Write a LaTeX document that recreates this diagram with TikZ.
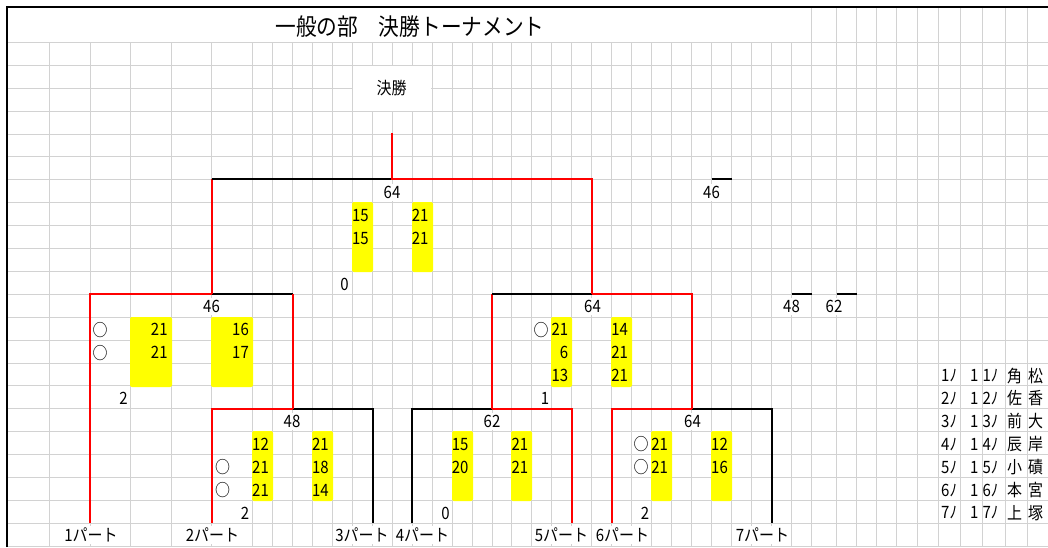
\documentclass[tikz,border=0pt]{standalone}
\usepackage{fontspec}
\setmainfont{Noto Sans CJK JP}[FakeStretch=0.88]
\usepackage{tikz}
\usetikzlibrary{calc}
\definecolor{cellgrid}{RGB}{210,210,210}
\definecolor{winred}{RGB}{255,0,0}
\definecolor{scoreyellow}{RGB}{255,255,0}

\begin{document}
\begin{tikzpicture}[x=1pt,y=-1pt,
    gridline/.style={cellgrid,line width=1.2pt},
    winline/.style={winred,line width=2pt},
    loseline/.style={black,line width=2pt},
    cell/.style={inner sep=0pt,font=\fontsize{17}{20}\selectfont},
    score/.style={cell,anchor=east},
    total/.style={cell,fill=white,inner xsep=1pt,minimum height=17pt},
    part/.style={cell,fill=white,inner xsep=1pt,minimum height=18pt},
    scorebox/.style={fill=scoreyellow,rounded corners=2pt}]
  \useasboundingbox (0,0) rectangle (1048,547);
  \clip (0,0) rectangle (1048,547);

  % sheet grid
  \foreach \r in {0,...,22}
    \draw[gridline] (7,{round(42+22.9*\r)+0.5}) -- (1048,{round(42+22.9*\r)+0.5});
  \foreach \c in {49,90,130,171,211}
    \draw[gridline] (\c+0.5,42) -- (\c+0.5,547);
  \foreach \k in {0,...,27}
    \draw[gridline] ({round(252+19.96*\k)+0.5},42) -- ({round(252+19.96*\k)+0.5},547);
  \foreach \c in {811,836,856,876,896,917,938,960,982,1005,1027}
    \draw[gridline] (\c+0.5,7) -- (\c+0.5,547);
  \draw[line width=1.5pt] (7,547) -- (7,7) -- (1048,7);

  % merged cell
  \fill[white] (353,66) rectangle (431,110.8);

  % score cells
  \foreach \xa/\xb/\ka/\kb in {352/372/202/271, 412/432/202/271,
      130/171/317/386, 211/252/317/386, 252/272/431/500, 312/332/431/500,
      551/571/317/386, 611/631/317/386, 452/472/431/500,
      511/531/431/500, 651/671/431/500, 711/731/431/500}
    \fill[scorebox] (\xa,\ka) rectangle (\xb+1,\kb+1);

  % bracket points
  \coordinate (p1) at (90,523);
  \coordinate (p2) at (211.5,523);
  \coordinate (p3) at (372.5,523);
  \coordinate (p4) at (412,523);
  \coordinate (p5) at (572,523);
  \coordinate (p6) at (612,523);
  \coordinate (p7) at (771.5,523);
  \coordinate (qA) at (292.5,409);
  \coordinate (qB) at (492,409);
  \coordinate (qC) at (692,409);
  \coordinate (sA) at (211.5,294);
  \coordinate (sB) at (592,294);
  \coordinate (fin) at (392,179);
  \coordinate (champ) at (392,133);

  % quarter finals
  \draw[winline] (p2) |- (qA);
  \draw[loseline] (qA) -| (p3);
  \draw[loseline] (p4) |- (qB);
  \draw[winline] (qB) -| (p5);
  \draw[winline] (p6) |- (qC);
  \draw[loseline] (qC) -| (p7);
  % semi finals
  \draw[winline] (p1) |- (sA);
  \draw[loseline] (sA) -- (sA -| qA);
  \draw[winline] (sA -| qA) -- (qA);
  \draw[winline] (qB) -- (qB |- sB);
  \draw[loseline] (qB |- sB) -- (sB);
  \draw[winline] (sB) -| (qC);
  % final
  \draw[winline] (sA) -- (sA |- fin);
  \draw[loseline] (sA |- fin) -- (fin);
  \draw[winline] (champ) -- (fin) -| (sB);

  % loose marks on the right
  \draw[loseline] (711.5,179) -- (731.5,179);
  \draw[loseline] (791.5,294) -- (811.5,294);
  \draw[loseline] (836.5,294) -- (856.5,294);

  % titles
  \node[font=\fontsize{23.5}{28}\selectfont,inner sep=0pt] (title) at (410,27)
    {一般の部　決勝トーナメント};
  \node[cell] (finlabel) at (391.5,88.5) {決勝};

  % game scores
  \foreach \x/\k/\s [count=\i] in {368.8/7/15, 368.8/8/15, 428.6/7/21, 428.6/8/21,
      167.8/12/21, 167.8/13/21, 249/12/16, 249/13/17,
      269/17/12, 269/18/21, 269/19/21, 328.8/17/21, 328.8/18/18, 328.8/19/14,
      568.4/12/21, 568.4/13/6, 568.4/14/13, 628.2/12/14, 628.2/13/21, 628.2/14/21,
      468.6/17/15, 468.6/18/20, 528.4/17/21, 528.4/18/21,
      668.2/17/21, 668.2/18/21, 728/17/12, 728/18/16}
    \node[score] (sc\i) at (\x,{42+22.9*\k+13}) {\s};

  % games won
  \foreach \x/\k/\s [count=\i] in {344.5/10/0, 123.5/15/2, 245/20/2,
      545/15/1, 445.5/20/0, 645/20/2}
    \node[cell] (gw\i) at (\x,{42+22.9*\k+13}) {\s};

  % win marks
  \foreach \x/\k [count=\i] in {100/12, 100/13, 222.5/18, 222.5/19,
      541/12, 641/17, 641/18}
    \node[cell] (mk\i) at (\x,{42+22.9*\k+13}) {○};

  % points
  \foreach \x/\k/\s [count=\i] in {392/6/64, 211.5/11/46, 292/16/48,
      592.5/11/64, 492/16/62, 692.5/16/64, 711.5/6/46, 791.5/11/48, 834/11/62}
    \node[total] (pt\i) at (\x,{42+22.9*\k+13}) {\s};

  % parts
  \foreach \x/\n in {91/1, 212.5/2, 362/3, 422.5/4, 561.5/5, 622.5/6, 762.5/7}
    \node[part] (part\n) at (\x,534.9) {\n{}パート};

  % member list
  \foreach \nameA/\nameB [count=\i] in {角/松, 佐/香, 前/大, 辰/岸, 小/磧, 本/宮, 上/塚} {
    \pgfmathsetmacro\yy{42+22.9*(\i+13)+13}
    \node[cell,anchor=west] (la\i) at (941,\yy) {\i ﾉ};
    \node[cell,anchor=west] (lb\i) at (970,\yy) {1\hspace{4pt}\i ﾉ};
    \node[cell,anchor=west] (lc\i) at (1007,\yy) {\nameA};
    \node[cell,anchor=west] (ld\i) at (1028,\yy) {\nameB};
  }
\end{tikzpicture}
\end{document}
